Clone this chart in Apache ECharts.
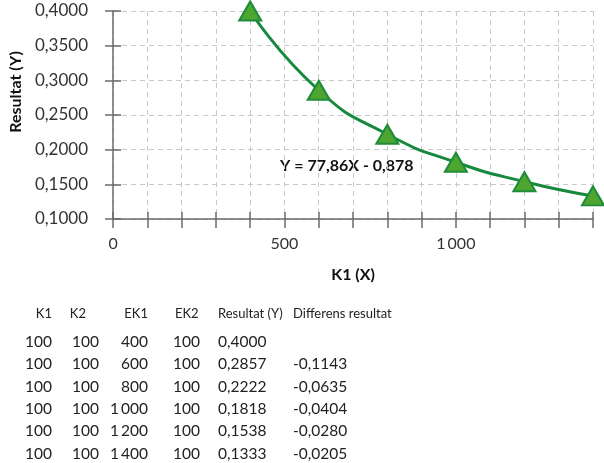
<!DOCTYPE html>
<html>
<head>
<meta charset="utf-8">
<script src="https://cdn.jsdelivr.net/npm/echarts@6/dist/echarts.min.js"></script>
<style>
  html, body { margin: 0; padding: 0; background: #fff; }
  #wrap { position: relative; width: 604px; height: 463px; font-family: Lato, "Open Sans", sans-serif; color: #222; }
  #chart { position: absolute; left: 0; top: 0; width: 604px; height: 463px; }
  .cell { position: absolute; white-space: nowrap; line-height: 1; }
  .hd { font-size: 13px; }
  .row { font-size: 15.5px; }
</style>
</head>
<body>
<div id="wrap">
  <div id="chart"></div>
  <div id="table"></div>
</div>
<script>
// data
const k1 = [100, 100, 100, 100, 100, 100]
const k2 = [100, 100, 100, 100, 100, 100]
const ek1 = [400, 600, 800, 1000, 1200, 1400]
const ek2 = [100, 100, 100, 100, 100, 100]
const resultat = [0.4000, 0.2857, 0.2222, 0.1818, 0.1538, 0.1333]
const differens = [null, -0.1143, -0.0635, -0.0404, -0.0280, -0.0205]
const headers = ['K1', 'K2', 'EK1', 'EK2', 'Resultat (Y)', 'Differens resultat']
const equation = 'Y = 77,86X - 0,878'

const fmtThousand = v => String(v).replace(/\B(?=(\d{3})+(?!\d))/g, '\u2009')
const fmtDec = v => v.toFixed(4).replace('.', ',')

const green = '#17893f'
const axisColor = '#6b6b6b'

const chart = echarts.init(document.getElementById('chart'))
chart.setOption({
  animation: false,
  textStyle: { fontFamily: 'Lato, "Open Sans", sans-serif' },
  grid: { left: 106, right: 11, top: 11, bottom: 244 },
  xAxis: [{
    type: 'value', min: 0, max: 1400, interval: 100,
    name: 'K1 (X)', nameLocation: 'middle', nameGap: 48,
    nameTextStyle: { fontWeight: 'bold', fontSize: 16, color: '#111' },
    axisLine: { lineStyle: { color: axisColor, width: 1.5 } },
    axisTick: { length: 9, lineStyle: { color: axisColor, width: 1.5 } },
    axisLabel: { fontSize: 16, color: '#333', margin: 17, formatter: v => (v % 500 === 0 ? fmtThousand(v) : '') },
    splitLine: { show: true, lineStyle: { color: '#c8c8c8', type: [5, 4], width: 1 } }
  }, {
    type: 'value', min: 0, max: 1400, interval: 100, position: 'bottom',
    axisLine: { show: false }, axisLabel: { show: false }, splitLine: { show: false },
    axisTick: { inside: true, length: 7, lineStyle: { color: axisColor, width: 1.5 } }
  }],
  yAxis: [{
    type: 'value', min: 0.1, max: 0.4, interval: 0.05,
    name: 'Resultat (Y)', nameLocation: 'middle', nameGap: 86, nameRotate: 90,
    nameTextStyle: { fontWeight: 'bold', fontSize: 16, color: '#111', padding: [0, 0, 0, 46] },
    axisLine: { show: true, lineStyle: { color: axisColor, width: 1.5 } },
    axisTick: { show: true, length: 8, lineStyle: { color: axisColor, width: 1.5 } },
    axisLabel: { fontSize: 17, color: '#333', margin: 25, formatter: v => fmtDec(v) },
    splitLine: { show: true, lineStyle: { color: '#c8c8c8', type: [5, 4], width: 1 } }
  }, {
    type: 'value', min: 0.1, max: 0.4, interval: 0.05, position: 'left',
    axisLine: { show: false }, axisLabel: { show: false }, splitLine: { show: false },
    axisTick: { show: true, inside: true, length: 8, lineStyle: { color: axisColor, width: 1.5 } }
  }],
  series: [{
    type: 'line',
    data: ek1.map((x, i) => [x, resultat[i]]),
    smooth: 0.55,
    symbol: 'triangle',
    symbolSize: [22, 19],
    lineStyle: { color: green, width: 3 },
    itemStyle: { color: '#4ea52f', borderColor: '#1e8c3a', borderWidth: 2 },
    z: 5
  }],
  graphic: [{
    type: 'text', left: 280, top: 158,
    style: { text: equation, font: 'bold 16px Lato, "Open Sans", sans-serif', fill: '#111' }
  }]
})

// table below the chart
const cols = [
  { x: 52, align: 'right', hx: 52, halign: 'right', vals: k1.map(String) },
  { x: 99, align: 'right', hx: 86, halign: 'right', vals: k2.map(String) },
  { x: 148, align: 'right', hx: 148, halign: 'right', vals: ek1.map(fmtThousand) },
  { x: 173, align: 'left', hx: 175, halign: 'left', vals: ek2.map(String) },
  { x: 218, align: 'left', hx: 218, halign: 'left', vals: resultat.map(fmtDec) },
  { x: 293, align: 'left', hx: 293, halign: 'left', vals: differens.map(v => (v === null ? '' : fmtDec(v))) }
]
const table = document.getElementById('table')
const place = (txt, x, y, align, cls) => {
  const d = document.createElement('div')
  d.className = 'cell ' + cls
  d.textContent = txt
  d.style.top = y + 'px'
  if (align === 'right') d.style.right = (604 - x) + 'px'
  else d.style.left = x + 'px'
  table.appendChild(d)
}
cols.forEach((c, ci) => {
  place(headers[ci], c.hx, 307, c.halign, 'hd')
  c.vals.forEach((v, ri) => place(v, c.x, 334 + ri * 22.3, c.align, 'row'))
})
</script>
</body>
</html>
